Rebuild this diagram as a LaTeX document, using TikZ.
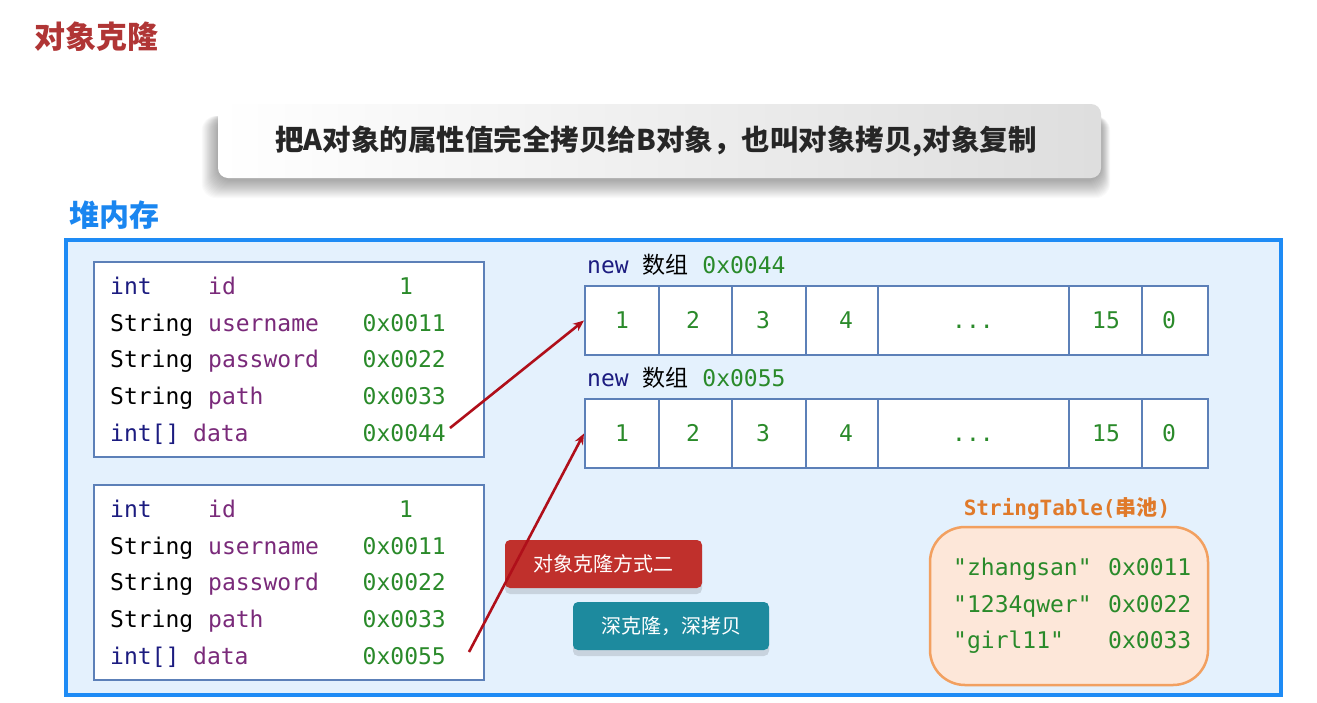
\documentclass[tikz,border=0pt]{standalone}
\usepackage{fontspec}
\setmonofont{DejaVu Sans Mono}
\newfontfamily\cjk{Noto Sans CJK SC}
\usetikzlibrary{arrows.meta,shadows,calc}
\definecolor{titlered}{HTML}{B03535}
\definecolor{headblue}{HTML}{1A86F0}
\definecolor{heapborder}{HTML}{1E8BF5}
\definecolor{heapfill}{HTML}{E4F1FD}
\definecolor{objborder}{HTML}{5C80B8}
\definecolor{tnavy}{HTML}{1C1C80}
\definecolor{tpurple}{HTML}{7A2A7A}
\definecolor{tgreen}{HTML}{2A8A2A}
\definecolor{arrred}{HTML}{B00F1A}
\definecolor{btnred}{HTML}{C0302C}
\definecolor{btnteal}{HTML}{1D8A9E}
\definecolor{orangetxt}{HTML}{E07A2A}
\definecolor{orangeborder}{HTML}{F2A060}
\definecolor{orangefill}{HTML}{FDE7D9}
\begin{document}
\begin{tikzpicture}[x=1pt,y=-1pt,
  mono/.style={font=\ttfamily\fontsize{23}{27}\selectfont, inner sep=0pt, anchor=base west},
  typ/.style={mono, text=tnavy},
  typs/.style={mono, text=black},
  fld/.style={mono, text=tpurple},
  val/.style={mono, text=tgreen, anchor=base east},
  valc/.style={mono, text=tgreen, anchor=base},
  objbox/.style={draw=objborder, line width=2pt, fill=white},
  cell/.style={draw=objborder, line width=2pt, fill=white, inner sep=0pt, minimum height=69pt},
  num/.style={mono, text=tgreen, anchor=base},
  arr/.style={draw=arrred, line width=2.6pt, -{Stealth[length=11pt,width=9pt]}},
  btn/.style={rounded corners=5pt, text=white, inner sep=0pt, minimum height=48pt,
     font=\cjk\fontsize{20}{22}\selectfont,
     drop shadow={shadow xshift=0pt, shadow yshift=-6pt, fill=black, opacity=0.12}},
  strv/.style={mono, text=tgreen}
]
\useasboundingbox (0,0) rectangle (1317,702);
\fill[white] (0,0) rectangle (1317,702);

% title
\node[anchor=west, text=titlered, inner sep=0pt, font=\cjk\bfseries\fontsize{31}{34}\selectfont] (title) at (34,37) {对象克隆};

% banner with soft shadow
\foreach \i in {1,...,18} {
  \fill[black, opacity=0.018, rounded corners=14pt] (218-\i*0.9,116) rectangle (1101+\i*0.5,180+\i);
}
\node[rounded corners=10pt, minimum width=883pt, minimum height=74pt, inner sep=0pt,
  left color=white, right color=black!13] (banner) at (659.5,141) {};
\node[font=\cjk\bfseries\fontsize{28.5}{31}\selectfont, text=black!85] (bannertext) at (656,141) {把A对象的属性值完全拷贝给B对象，也叫对象拷贝,对象复制};

% heap
\node[anchor=west, text=headblue, inner sep=0pt, font=\cjk\bfseries\fontsize{30}{33}\selectfont] (heaplabel) at (69,215) {堆内存};
\node[draw=heapborder, line width=4pt, fill=heapfill, minimum width=1215pt, minimum height=455pt, inner sep=0pt] (heap) at (673.5,467.5) {};

% object 1
\node[objbox, minimum width=390pt, minimum height=195pt, inner sep=0pt] (obj1) at (289,359.5) {};
\node[typ] (o1t1) at (110,294) {int};
\node[fld] (o1f1) at (208,294) {id};
\node[valc] (o1v1) at (406,294) {1};
\node[typs] (o1t2) at (110,331) {String};
\node[fld] (o1f2) at (208,331) {username};
\node[val] (o1v2) at (446,331) {0x0011};
\node[typs] (o1t3) at (110,367) {String};
\node[fld] (o1f3) at (208,367) {password};
\node[val] (o1v3) at (446,367) {0x0022};
\node[typs] (o1t4) at (110,404) {String};
\node[fld] (o1f4) at (208,404) {path};
\node[val] (o1v4) at (446,404) {0x0033};
\node[typ] (o1t5) at (110,441) {int[]};
\node[fld] (o1f5) at (193,441) {data};
\node[val] (o1v5) at (446,441) {0x0044};

% object 2
\node[objbox, minimum width=390pt, minimum height=195pt, inner sep=0pt] (obj2) at (289,582.5) {};
\node[typ] (o2t1) at (110,517) {int};
\node[fld] (o2f1) at (208,517) {id};
\node[valc] (o2v1) at (406,517) {1};
\node[typs] (o2t2) at (110,554) {String};
\node[fld] (o2f2) at (208,554) {username};
\node[val] (o2v2) at (446,554) {0x0011};
\node[typs] (o2t3) at (110,590) {String};
\node[fld] (o2f3) at (208,590) {password};
\node[val] (o2v3) at (446,590) {0x0022};
\node[typs] (o2t4) at (110,627) {String};
\node[fld] (o2f4) at (208,627) {path};
\node[val] (o2v4) at (446,627) {0x0033};
\node[typ] (o2t5) at (110,664) {int[]};
\node[fld] (o2f5) at (193,664) {data};
\node[val] (o2v5) at (446,664) {0x0055};

% array labels
\node[mono] (lab1) at (587,273) {\textcolor{tnavy}{new} {\cjk 数组} \textcolor{tgreen}{0x0044}};
\node[mono] (lab2) at (587,386) {\textcolor{tnavy}{new} {\cjk 数组} \textcolor{tgreen}{0x0055}};

% arrays
\foreach \r/\yc in {1/320.5, 2/433.5} {
  \node[cell, minimum width=74pt] (a\r c1) at (622,\yc) {};
  \node[cell, minimum width=73pt] (a\r c2) at (695.5,\yc) {};
  \node[cell, minimum width=74pt] (a\r c3) at (769,\yc) {};
  \node[cell, minimum width=72pt] (a\r c4) at (842,\yc) {};
  \node[cell, minimum width=191pt] (a\r c5) at (973.5,\yc) {};
  \node[cell, minimum width=73pt] (a\r c6) at (1105.5,\yc) {};
  \node[cell, minimum width=66pt] (a\r c7) at (1175,\yc) {};
  \node[num] (a\r n1) at (622,\yc+8) {1};
  \node[num] (a\r n2) at (693,\yc+8) {2};
  \node[num] (a\r n3) at (763,\yc+8) {3};
  \node[num] (a\r n4) at (846,\yc+8) {4};
  \node[num] (a\r n5) at (973,\yc+8) {...};
  \node[num] (a\r n6) at (1106,\yc+8) {15};
  \node[num] (a\r n7) at (1169,\yc+8) {0};
}

% buttons
\node[btn, fill=btnred, minimum width=197pt] (btn1) at (603.5,564) {对象克隆方式二};
\node[btn, fill=btnteal, minimum width=196pt] (btn2) at (671,626) {深克隆，深拷贝};

% arrows
\coordinate (s1) at (450,428);
\coordinate (s2) at (469,652);
\draw[arr] (s1) -- (a1c1.west);
\draw[arr] (s2) -- (a2c1.west);

% string table
\node[font=\ttfamily\bfseries\fontsize{21}{23}\selectfont, text=orangetxt, inner sep=0pt] (stlabel) at (1067,509) {StringTable({\cjk\bfseries 串池})};
\node[draw=orangeborder, line width=2.5pt, fill=orangefill, rounded corners=35pt, minimum width=278pt, minimum height=158pt, inner sep=0pt] (pool) at (1069,606) {};
\node[strv] (p1k) at (953,575) {"zhangsan"};
\node[strv] (p1v) at (1108,575) {0x0011};
\node[strv] (p2k) at (953,612) {"1234qwer"};
\node[strv] (p2v) at (1108,612) {0x0022};
\node[strv] (p3k) at (953,648) {"girl11"};
\node[strv] (p3v) at (1108,648) {0x0033};
\end{tikzpicture}
\end{document}
